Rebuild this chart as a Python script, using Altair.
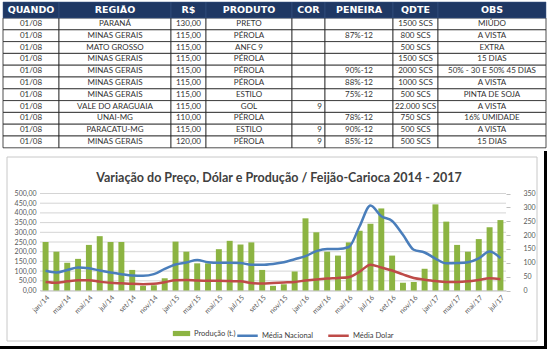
import altair as alt
import pandas as pd

# ---------------- table data ----------------
HEADERS = ["QUANDO", "REGIÃO", "R$", "PRODUTO", "COR", "PENEIRA", "QDTE", "OBS"]
QUANDO = ["01/08"] * 11
REGIAO = ["PARANÁ", "MINAS GERAIS", "MATO GROSSO", "MINAS GERAIS", "MINAS GERAIS",
          "MINAS GERAIS", "MINAS GERAIS", "VALE DO ARAGUAIA", "UNAI-MG", "PARACATU-MG",
          "MINAS GERAIS"]
PRECO = [130, 115, 115, 115, 115, 115, 115, 115, 110, 115, 120]
PRODUTO = ["PRETO", "PÉROLA", "ANFC 9", "PÉROLA", "PÉROLA", "PÉROLA", "ESTILO", "GOL",
           "PÉROLA", "ESTILO", "PÉROLA"]
COR = ["", "", "", "", "", "", "", "9", "", "9", "9"]
PENEIRA = ["", "87%-12", "", "", "90%-12", "88%-12", "75%-12", "", "78%-12", "90%-12", "85%-12"]
QDTE = ["1500 SCS", "800 SCS", "500 SCS", "1500 SCS", "2000 SCS", "1000 SCS", "500 SCS",
        "22.000 SCS", "750 SCS", "500 SCS", "500 SCS"]
OBS = ["MIÚDO", "A VISTA", "EXTRA", "15 DIAS", "50% - 30 E 50% 45 DIAS", "A VISTA",
       "PINTA DE SOJA", "A VISTA", "16% UMIDADE", "A VISTA", "15 DIAS"]

# ---------------- chart data ----------------
TITLE = "Variação do Preço, Dólar e Produção / Feijão-Carioca 2014 - 2017"
MESES = ["jan", "fev", "mar", "abr", "mai", "jun", "jul", "ago", "set", "out", "nov", "dez"]
MONTHS = ([f"{m}/{y}" for y in ("14", "15", "16") for m in MESES]
          + [f"{m}/17" for m in MESES[:7]])
PRODUCAO = [250, 200, 143, 163, 235, 280, 250, 250, 106, 24, 27, 63,
            252, 200, 140, 140, 213, 256, 237, 248, 106, 24, 32, 98,
            372, 300, 200, 180, 248, 308, 344, 423, 180, 40, 44, 112,
            444, 355, 235, 200, 265, 326, 363]
MEDIA_NACIONAL = [71, 65, 74, 83, 80, 72, 65, 59, 54, 53, 59, 78,
                  94, 101, 110, 102, 100, 100, 99, 93, 93, 96, 102, 113,
                  124, 142, 150, 150, 157, 232, 307, 268, 251, 201, 147, 137,
                  115, 98, 99, 102, 116, 141, 117]
MEDIA_DOLAR = [31, 28, 33, 37, 37, 32, 28, 26, 24, 23, 24, 30,
               37, 38, 36, 35, 35, 34, 33, 27, 25, 27, 29, 31,
               36, 40, 43, 45, 48, 68, 93, 83, 72, 58, 45, 39,
               34, 31, 31, 33, 38, 44, 41]
LEFT_TICKS = list(range(0, 501, 50))
RIGHT_TICKS = list(range(0, 351, 50))

# ---------------- layout / style constants (pixels) ----------------
PAGE_W, PAGE_H = 547, 349
COL_EDGES = [0, 56, 168, 203, 289, 322, 390, 435, 543]
HEADER_H = 16
ROW_H = 11.8
TABLE_W = 543
TABLE_H = 146
TABLE_X = [3, 546]
TABLE_Y = [2, 148]
PLOT_X = [40, 506]
PLOT_Y = [290.5, 193.5]
NAVY = "#1F3864"
GREEN = "#8CB442"
BLUE = "#4A7EBB"
RED = "#BE4B48"
AXIS_TXT = "#595959"
FONT = "Lato"

# ---------------- table ----------------
body_cols = [QUANDO, REGIAO, [f"{v:.2f}".replace(".", ",") for v in PRECO], PRODUTO,
             COR, PENEIRA, QDTE, OBS]
cells = []
for c, h in enumerate(HEADERS):
    x0, x1 = COL_EDGES[c], COL_EDGES[c + 1]
    cells.append(dict(kind="head", col=h, txt=h, x0=x0, x1=x1, xc=(x0 + x1) / 2,
                      xr=x1 - 3, y0=0, y1=HEADER_H, yc=HEADER_H / 2))
    for r, v in enumerate(body_cols[c]):
        y0 = HEADER_H + r * ROW_H
        cells.append(dict(kind="body", col=h, txt=v, x0=x0, x1=x1, xc=(x0 + x1) / 2,
                          xr=x1 - 3, y0=y0, y1=y0 + ROW_H, yc=y0 + ROW_H / 2))
tdf = pd.DataFrame(cells)

tx = alt.Scale(domain=[0, TABLE_W], range=TABLE_X, nice=False, zero=False)
ty = alt.Scale(domain=[0, TABLE_H], range=TABLE_Y, nice=False, zero=False)

tbase = alt.Chart(tdf)
head_rect = tbase.transform_filter("datum.kind == 'head'").mark_rect(
    fill=NAVY, stroke="#3a5587", strokeWidth=0.5).encode(
    x=alt.X("x0:Q", scale=tx, axis=None), x2="x1:Q",
    y=alt.Y("y0:Q", scale=ty, axis=None), y2="y1:Q")
body_rect = tbase.transform_filter("datum.kind == 'body'").mark_rect(
    fill="white", stroke="#222222", strokeWidth=0.8).encode(
    x=alt.X("x0:Q", scale=tx, axis=None), x2="x1:Q",
    y=alt.Y("y0:Q", scale=ty, axis=None), y2="y1:Q")
head_text = tbase.transform_filter("datum.kind == 'head'").mark_text(
    color="white", font="DejaVu Sans", fontWeight="bold", fontSize=9.5,
    baseline="middle").encode(
    x=alt.X("xc:Q", scale=tx, axis=None), y=alt.Y("yc:Q", scale=ty, axis=None), text="txt:N")
body_text = tbase.transform_filter("datum.kind == 'body' && datum.col != 'COR'").mark_text(
    color="#333333", font=FONT, fontSize=8, baseline="middle").encode(
    x=alt.X("xc:Q", scale=tx, axis=None), y=alt.Y("yc:Q", scale=ty, axis=None), text="txt:N")
cor_text = tbase.transform_filter("datum.kind == 'body' && datum.col == 'COR'").mark_text(
    color="#333333", font=FONT, fontSize=8, baseline="middle", align="right").encode(
    x=alt.X("xr:Q", scale=tx, axis=None), y=alt.Y("yc:Q", scale=ty, axis=None), text="txt:N")

table = alt.layer(body_rect, head_rect, head_text, body_text, cor_text)

# ---------------- chart ----------------
df = pd.DataFrame({"mes": MONTHS, "prod": PRODUCAO, "serie": "Produção (t.)"})
ldf = pd.concat([
    pd.DataFrame({"mes": MONTHS, "valor": MEDIA_NACIONAL, "serie": "Média Nacional"}),
    pd.DataFrame({"mes": MONTHS, "valor": MEDIA_DOLAR, "serie": "Média Dolar"}),
])
gdf = pd.DataFrame({"prod": LEFT_TICKS})

xs = alt.Scale(domain=MONTHS, range=PLOT_X, paddingInner=0.45, paddingOuter=0.24)
y_left = alt.Scale(domain=[0, 500], range=PLOT_Y, nice=False, zero=False)
y_right = alt.Scale(domain=[0, 350], range=PLOT_Y, nice=False, zero=False)

x_axis = alt.Axis(values=MONTHS[::2], labelAngle=315, labelFontSize=7,
                  labelColor=AXIS_TXT, labelFont=FONT, ticks=False,
                  domainColor="#bfbfbf", title=None, labelPadding=3,
                  offset=-(PAGE_H - PLOT_Y[0]))
yl_axis = alt.Axis(values=LEFT_TICKS, orient="left", offset=-PLOT_X[0],
                   labelExpr="replace(format(datum.value, '.2f'), '.', ',')",
                   labelFontSize=7, labelColor=AXIS_TXT, labelFont=FONT,
                   grid=False, domain=False, ticks=False, title=None, labelPadding=4)
yr_axis = alt.Axis(values=RIGHT_TICKS, orient="right", offset=-(PAGE_W - PLOT_X[1]),
                   labelFontSize=7, labelColor=AXIS_TXT, labelFont=FONT,
                   grid=False, domain=False, ticks=True, tickSize=4,
                   tickColor="#bfbfbf", title=None, labelPadding=13)

grid = alt.Chart(gdf).mark_rule(color="#d4d4d4", strokeWidth=1).encode(
    y=alt.Y("prod:Q", scale=y_left, axis=yl_axis),
    x=alt.value(PLOT_X[0]), x2=alt.value(PLOT_X[1]))

bars = alt.Chart(df).mark_bar().encode(
    x=alt.X("mes:N", sort=MONTHS, scale=xs, axis=x_axis),
    y=alt.Y("prod:Q", scale=y_left, axis=yl_axis),
    fill=alt.Fill("serie:N", scale=alt.Scale(domain=["Produção (t.)"], range=[GREEN]),
                  legend=alt.Legend(orient="none", legendX=172, legendY=324, title=None,
                                    symbolType="M-1,-0.3H1V0.3H-1Z", symbolSize=300,
                                    labelFontSize=7.5, labelColor="#404040", labelFont=FONT,
                                    labelOffset=3)),
)

lines = alt.Chart(ldf).mark_line(strokeWidth=2.5, interpolate="monotone").encode(
    x=alt.X("mes:N", sort=MONTHS, scale=xs, axis=x_axis),
    y=alt.Y("valor:Q", scale=y_right, axis=yr_axis),
    stroke=alt.Stroke("serie:N",
                      scale=alt.Scale(domain=["Média Nacional", "Média Dolar"],
                                      range=[BLUE, RED]),
                      legend=alt.Legend(orient="none", legendX=236, legendY=324, title=None,
                                        direction="horizontal", symbolType="stroke",
                                        symbolSize=420, symbolStrokeWidth=2.5,
                                        columnPadding=9, labelFontSize=7.5,
                                        labelColor="#404040", labelFont=FONT,
                                        labelOffset=3)),
)

plot = alt.layer(alt.layer(grid, bars), lines).resolve_scale(y="independent")

# ---------------- decoration: chart frame, title, dark page edges ----------------
one = pd.DataFrame({"k": [0]})
frame = alt.Chart(one).mark_rect(fillOpacity=0, stroke="#c8c8c8", strokeWidth=1).encode(
    x=alt.value(7), x2=alt.value(537), y=alt.value(157), y2=alt.value(341))
title = alt.Chart(one).mark_text(text=TITLE, font=FONT, fontSize=12.5, fontWeight="bold",
                                 color="#404040", baseline="middle", align="center").encode(
    x=alt.value(279), y=alt.value(178))
edge_r = alt.Chart(one).mark_rule(color="black", strokeWidth=3).encode(
    x=alt.value(545.5), y=alt.value(151), y2=alt.value(349))
edge_b = alt.Chart(one).mark_rule(color="black", strokeWidth=3).encode(
    x=alt.value(0), x2=alt.value(547), y=alt.value(347.5))

final = alt.layer(frame, title, table, plot, edge_r, edge_b).resolve_scale(
    x="independent", y="independent").properties(
    width=PAGE_W, height=PAGE_H,
    autosize=alt.AutoSizeParams(type="none"),
    padding=0,
    background="white",
).configure_view(strokeWidth=0)

final.save("out.html", embed_options={"renderer": "svg", "actions": False})
